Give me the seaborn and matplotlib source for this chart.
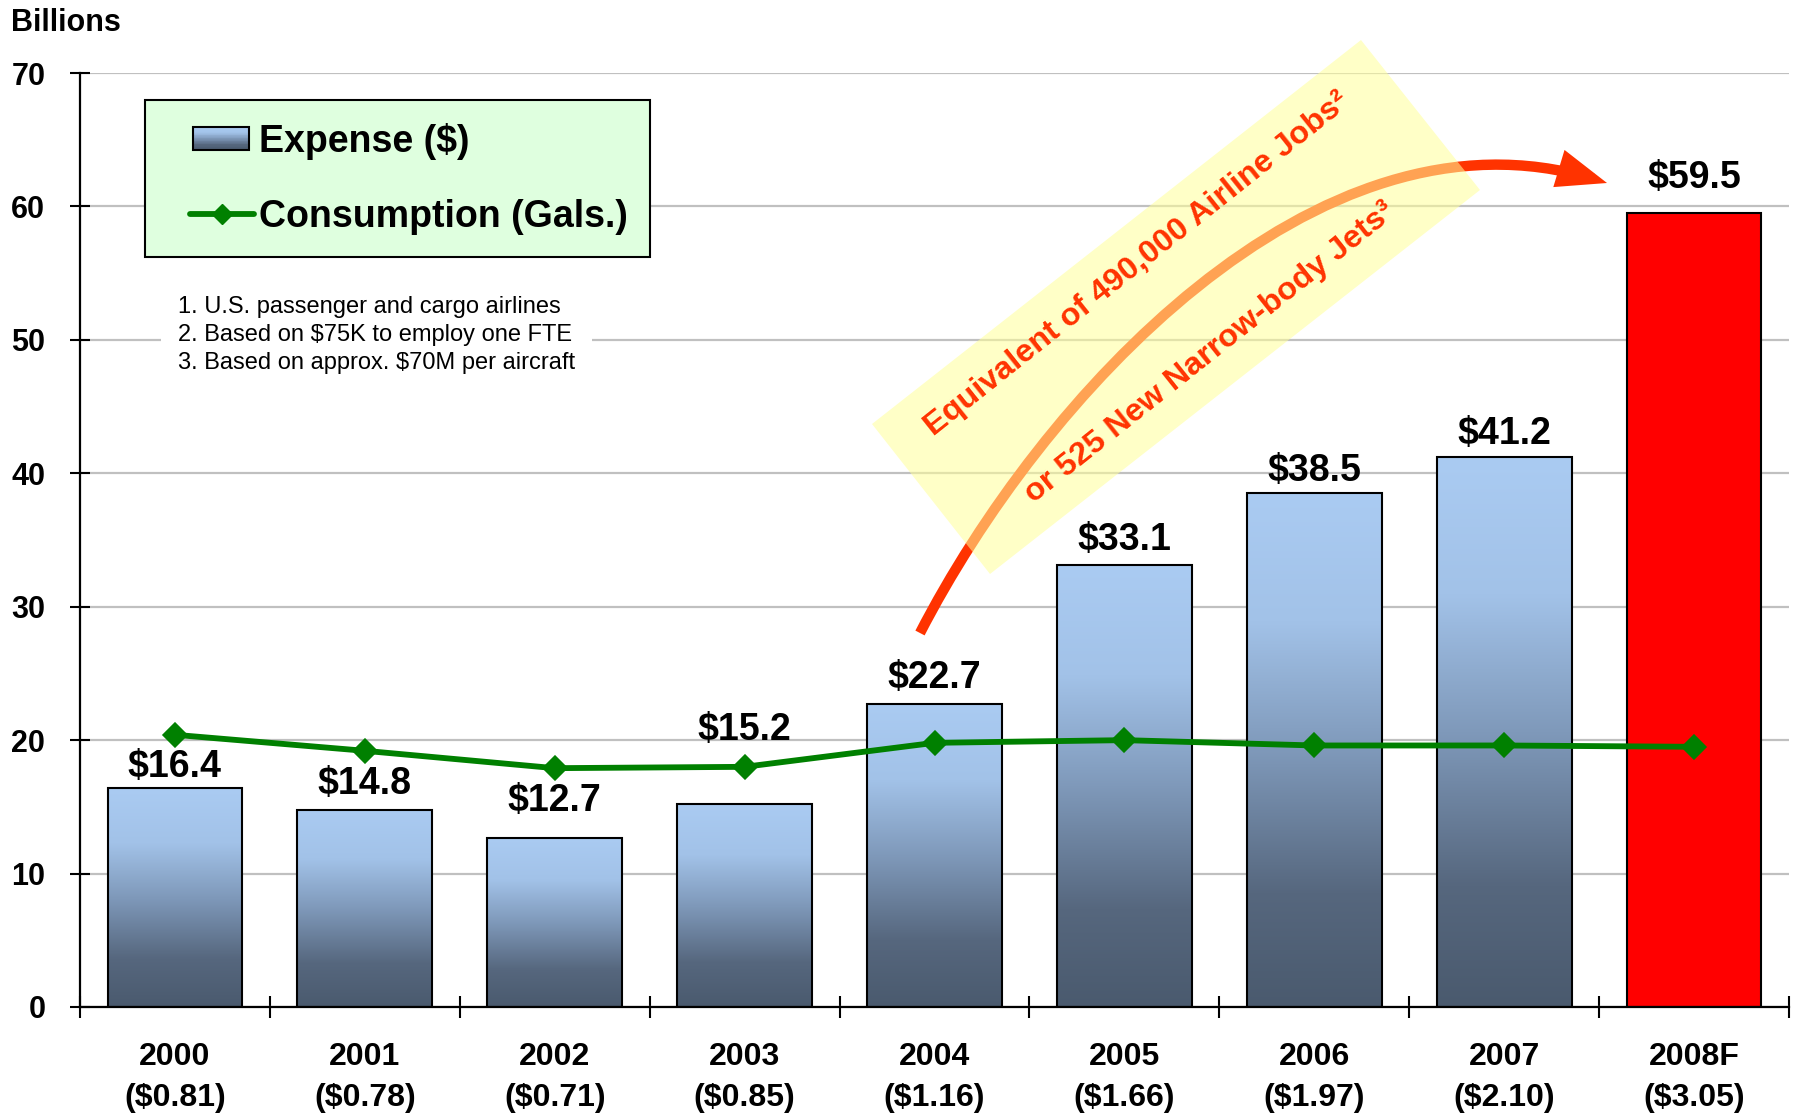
import numpy as np
import pandas as pd
import matplotlib
matplotlib.use("Agg")
import matplotlib.pyplot as plt
import seaborn as sns
from matplotlib.patches import Rectangle, Polygon, FancyArrowPatch, Patch
from matplotlib.lines import Line2D
from matplotlib.path import Path
from matplotlib.legend_handler import HandlerBase
from matplotlib.colors import LinearSegmentedColormap

# ---------------- data ----------------
years = ["2000", "2001", "2002", "2003", "2004", "2005", "2006", "2007", "2008F"]
fuel_prices = ["($0.81)", "($0.78)", "($0.71)", "($0.85)", "($1.16)",
               "($1.66)", "($1.97)", "($2.10)", "($3.05)"]
expense = [16.4, 14.8, 12.7, 15.2, 22.7, 33.1, 38.5, 41.2, 59.5]
consumption = [20.4, 19.2, 17.9, 18.0, 19.8, 20.0, 19.6, 19.6, 19.5]
y_ticks = [0, 10, 20, 30, 40, 50, 60, 70]
legend_labels = ["Expense ($)", "Consumption (Gals.)"]
footnotes = ["1. U.S. passenger and cargo airlines",
             "2. Based on $75K to employ one FTE",
             "3. Based on approx. $70M per aircraft"]
callout_lines = ["Equivalent of 490,000 Airline Jobs\u00b2",
                 "or 525 New Narrow-body Jets\u00b3"]

# label offsets above each bar (points) - layout only
label_pad = [2.5, 5.5, 13.5, 40.5, 5.5, 5.5, 3.0, 3.5, 12.0]

# ---------------- style ----------------
sns.set_style("ticks")
plt.rcParams['font.family'] = ['Liberation Sans', 'DejaVu Sans']
plt.rcParams['text.color'] = 'black'
plt.rcParams['xtick.color'] = 'black'
plt.rcParams['ytick.color'] = 'black'
plt.rcParams['axes.labelcolor'] = 'black'

W, H = 1798, 1117
fig = plt.figure(figsize=(W / 100, H / 100), dpi=100)
ax = fig.add_axes([80 / W, 1 - 1007 / H, (1789 - 80) / W, (1007 - 73) / H])


def fxy(x, y):
    return (x / W, 1 - y / H)


df = pd.DataFrame({"year": years, "expense": expense, "consumption": consumption})

grad_cmap = LinearSegmentedColormap.from_list(
    "steel", [(0.0, "#4a5a6e"), (0.22, "#56677e"), (0.5, "#7f99ba"),
              (0.75, "#a2c2e8"), (1.0, "#aacbf2")])

GREEN = "#008000"
RED_TXT = "#ff3300"

sns.barplot(data=df, x="year", y="expense", color="#8aa6c8", saturation=1,
            width=0.71, edgecolor="black", linewidth=1.5, ax=ax, zorder=2)

bars = list(ax.containers[0])
grad = np.linspace(0, 1, 256).reshape(-1, 1)
for p in bars[:-1]:
    x0, y0 = p.get_x(), p.get_y()
    w, h = p.get_width(), p.get_height()
    im = ax.imshow(grad, cmap=grad_cmap, origin="lower",
                   extent=[x0, x0 + w, y0, y0 + h], aspect="auto",
                   zorder=1.9, interpolation="bilinear")
    im.set_clip_path(p)
    p.set_facecolor("none")
bars[-1].set_facecolor("#ff0000")

sns.pointplot(data=df, x="year", y="consumption", color=GREEN,
              markers="D", markersize=10.5, linewidth=4.2, errorbar=None,
              ax=ax, zorder=4)

for p, v, pad in zip(bars, expense, label_pad):
    ax.annotate(f"${v:.1f}", xy=(p.get_x() + p.get_width() / 2, p.get_height()),
                xytext=(0, pad), textcoords="offset points", ha="center",
                va="bottom", fontsize=27, fontweight="bold", zorder=5)

# ---------------- axes ----------------
ax.set_xlim(-0.5, 8.5)
ax.set_ylim(0, 70)
ax.set_yticks(y_ticks)
ax.yaxis.grid(True, color="#c0c0c0", lw=1.6)
ax.xaxis.grid(False)
ax.set_axisbelow(True)
for s in ["top", "right"]:
    ax.spines[s].set_visible(False)
for s in ["left", "bottom"]:
    ax.spines[s].set_color("black")
    ax.spines[s].set_linewidth(1.6)
ax.set_xlabel("")
ax.set_ylabel("")

ax.set_xticks(range(len(years)))
ax.set_xticklabels([f"{y}\n{p}" for y, p in zip(years, fuel_prices)],
                   fontsize=23, fontweight="bold", linespacing=1.5)
ax.tick_params(axis="x", which="major", length=0, pad=25, bottom=True)
ax.set_xticks(np.arange(-0.5, len(years), 1.0), minor=True)
ax.tick_params(axis="x", which="minor", direction="inout", length=16,
               width=1.5, color="black", bottom=True)
ax.tick_params(axis="y", direction="inout", length=14, width=1.5,
               labelsize=22, pad=18, left=True)
for lbl in ax.get_yticklabels():
    lbl.set_fontweight("bold")


# ---------------- legend ----------------
class GradientHandler(HandlerBase):
    def create_artists(self, legend, orig_handle, xdescent, ydescent,
                       width, height, fontsize, trans):
        x_start = -xdescent + 0.30 * width
        pw = 0.65 * width
        ph = 0.85 * height
        yb = -ydescent + (height - ph) / 2
        n = 30
        arts = []
        for i in range(n):
            c = grad_cmap((i + 0.5) / n)
            arts.append(Rectangle((x_start, yb + ph * i / n), pw, ph / n * 1.15,
                                  facecolor=c, edgecolor="none",
                                  transform=trans))
        arts.append(Rectangle((x_start, yb), pw, ph, facecolor="none",
                              edgecolor="black", lw=1.5, transform=trans))
        return arts


class OffsetLineHandler(HandlerBase):
    def create_artists(self, legend, orig_handle, xdescent, ydescent,
                       width, height, fontsize, trans):
        x0 = -xdescent + 0.26 * width
        x1 = -xdescent + width
        yc = -ydescent + height / 2
        line = Line2D([x0, x1], [yc, yc], color=orig_handle.get_color(),
                      lw=orig_handle.get_linewidth(), transform=trans)
        mk = Line2D([(x0 + x1) / 2], [yc], color=orig_handle.get_color(),
                    marker=orig_handle.get_marker(),
                    markersize=orig_handle.get_markersize(), lw=0,
                    transform=trans)
        return [line, mk]


handles = [Patch(label=legend_labels[0]),
           Line2D([], [], color=GREEN, lw=4.2, marker="D", markersize=10.5,
                  label=legend_labels[1])]
leg = ax.legend(handles=handles, labels=legend_labels, loc="upper left",
                bbox_to_anchor=fxy(145, 100), bbox_transform=fig.transFigure,
                borderaxespad=0, prop={"size": 27, "weight": "bold"},
                frameon=True, fancybox=False, framealpha=1,
                facecolor="#dfffdf", edgecolor="black", borderpad=0.6,
                labelspacing=1.05, handlelength=2.3, handletextpad=0.14,
                handler_map={Patch: GradientHandler(),
                             Line2D: OffsetLineHandler()})
leg.get_frame().set_linewidth(1.5)

# ---------------- texts ----------------
fig.text(*fxy(11, 23), "Billions", fontsize=22, fontweight="bold",
         ha="left", va="center")

fig.text(*fxy(178, 335), "\n".join(footnotes), fontsize=17, ha="left",
         va="center", linespacing=1.36,
         bbox=dict(facecolor="white", edgecolor="none", pad=12), zorder=3)

# ---------------- callout ----------------
verts = [fxy(920, 633), fxy(1040, 400), fxy(1315, 95), fxy(1607, 183)]
arrow = FancyArrowPatch(path=Path(verts, [Path.MOVETO, Path.CURVE4,
                                          Path.CURVE4, Path.CURVE4]),
                        arrowstyle="-|>,head_length=2.2,head_width=0.85",
                        mutation_scale=10, color=RED_TXT, lw=7.5,
                        transform=fig.transFigure, capstyle="butt",
                        joinstyle="miter", zorder=1.5)
fig.add_artist(arrow)

box = Polygon([fxy(872, 424), fxy(1361, 40), fxy(1480, 190), fxy(990, 574)],
              closed=True, facecolor="#ffff99", alpha=0.55, edgecolor="none",
              transform=fig.transFigure, zorder=2)
fig.add_artist(box)

fig.text(*fxy(1137, 264), callout_lines[0], fontsize=23.3, fontweight="bold",
         color=RED_TXT, rotation=38.5, rotation_mode="anchor",
         ha="center", va="center", zorder=3)
fig.text(*fxy(1210, 353), callout_lines[1], fontsize=23.3, fontweight="bold",
         color=RED_TXT, rotation=38.5, rotation_mode="anchor",
         ha="center", va="center", zorder=3)

fig.savefig("out.png", dpi=100)
